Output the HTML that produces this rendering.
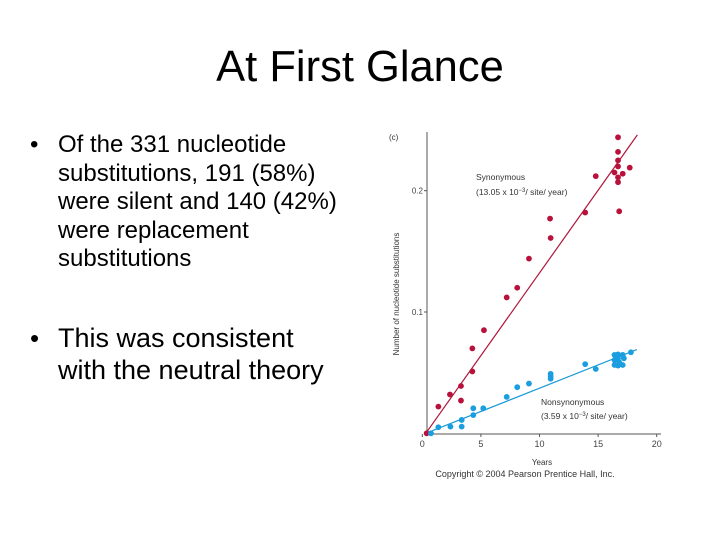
<!DOCTYPE html>
<html><head><meta charset="utf-8"><style>
body{margin:0;background:#fff;width:720px;height:540px;overflow:hidden;font-family:"Liberation Sans",sans-serif;}
.t{position:absolute;white-space:nowrap;color:#000;}
</style></head><body>
<div style="position:relative;width:720px;height:540px;">
<div class="t" style="left:0;width:720px;text-align:center;top:43px;font-size:43.5px;">At First Glance</div>
<div class="t" style="left:30px;top:131px;font-size:24px;line-height:28.5px;">
<span style="position:absolute;left:0;font-size:24px;">•</span>
<div style="margin-left:28px;">Of the 331 nucleotide<br>substitutions, 191 (58%)<br>were silent and 140 (42%)<br>were replacement<br>substitutions</div></div>
<div class="t" style="left:30px;top:322px;font-size:27px;line-height:32px;">
<span style="position:absolute;left:0;font-size:26px;">•</span>
<div style="margin-left:28px;">This was consistent<br>with the neutral theory</div></div>
<svg id="chart" width="720" height="540" style="position:absolute;left:0;top:0;" font-family="Liberation Sans, sans-serif"></svg>
</div>
<script>
const xTicks=[0,5,10,15,20];
const yTicks=[0.1,0.2];
const synX=[0.37,1.37,2.36,3.3,3.3,4.27,4.27,5.26,7.2,8.1,9.1,10.95,10.9,13.9,14.8,16.7,16.7,16.7,16.7,16.4,16.7,16.7,17.1,17.7,16.8];
const synY=[0,0.022,0.032,0.027,0.039,0.051,0.070,0.085,0.112,0.120,0.144,0.161,0.177,0.182,0.212,0.244,0.232,0.225,0.220,0.215,0.211,0.207,0.214,0.219,0.183];
const nonX=[0.74,1.37,2.4,3.36,3.36,4.35,4.35,5.2,7.2,8.1,9.1,10.95,10.95,10.95,13.9,14.8,16.4,16.4,16.4,16.7,16.7,16.7,16.8,17.1,17.1,17.2,17.8];
const nonY=[0,0.005,0.0055,0.0055,0.011,0.015,0.0206,0.0206,0.030,0.038,0.041,0.049,0.045,0.047,0.057,0.053,0.0646,0.0604,0.0563,0.065,0.0618,0.0558,0.0585,0.0646,0.0563,0.0618,0.0668];
const synLine=[[0.3,0],[18.35,0.246]];
const nonLine=[[0.3,0],[18.3,0.069]];
const svg=document.getElementById('chart');
const NS='http://www.w3.org/2000/svg';
const X=v=>422.3+11.72*v, Y=v=>433.3-1213*v;
function mk(t,a,p){const e=document.createElementNS(NS,t);for(const k in a)e.setAttribute(k,a[k]);(p||svg).appendChild(e);return e;}
let e;
e=mk('line',{x1:427,y1:132,x2:427,y2:434,stroke:'#555','stroke-width':1});


e=mk('line',{x1:427,y1:434,x2:661,y2:434,stroke:'#555','stroke-width':1});


xTicks.forEach(v=>{
 e=mk('line',{x1:X(v),y1:434,x2:X(v),y2:437,stroke:'#555'});
 
 
 e=mk('text',{x:X(v),y:447,'font-size':9,'text-anchor':'middle',fill:'#444'});e.textContent=v;
 
 
});
yTicks.forEach(v=>{
 e=mk('line',{x1:424,y1:Y(v),x2:427,y2:Y(v),stroke:'#555'});
 
 
 e=mk('text',{x:423,y:Y(v)+3,'font-size':8,'text-anchor':'end',fill:'#444'});e.textContent=v;
 
 
});
function line(pts,c,n){e=mk('line',{x1:X(pts[0][0]),y1:Y(pts[0][1]),x2:X(pts[1][0]),y2:Y(pts[1][1]),stroke:c,'stroke-width':1.2});
 
 }
line(synLine,'#b0163a','synonymous-fit-line');
line(nonLine,'#1a9ad6','nonsynonymous-fit-line');
function pts(xs,ys,c,n){xs.forEach((x,i)=>{e=mk('circle',{cx:X(x),cy:Y(ys[i]),r:2.9,fill:c});
 
 });}
pts(synX,synY,'#b8123c','synonymous-point');
pts(nonX,nonY,'#1a9ee0','nonsynonymous-point');
function txt(x,y,s,sz,n,extra){e=mk('text',Object.assign({x:x,y:y,'font-size':sz,fill:'#333'},extra||{}));e.innerHTML=s;
 
 return e;}
txt(389,140,'(c)',8,'panel-label');
txt(476,180,'Synonymous',8.5,'synonymous-label');
txt(476,195,'(13.05 x 10<tspan dy="-3" font-size="6">−3</tspan><tspan dy="3">/ site/ year)</tspan>',8.5,'synonymous-rate');
txt(541,405,'Nonsynonymous',8.5,'nonsynonymous-label');
txt(541,419,'(3.59 x 10<tspan dy="-3" font-size="6">−3</tspan><tspan dy="3">/ site/ year)</tspan>',8.5,'nonsynonymous-rate');
txt(542,465,'Years',8,'x-axis-title',{'text-anchor':'middle'});
txt(525,477,'Copyright © 2004 Pearson Prentice Hall, Inc.',9,'copyright',{'text-anchor':'middle'});
txt(0,0,'Number of nucleotide substitutions',8,'y-axis-title',{'text-anchor':'middle',transform:'translate(399,294) rotate(-90)'});
</script>
</body></html>
